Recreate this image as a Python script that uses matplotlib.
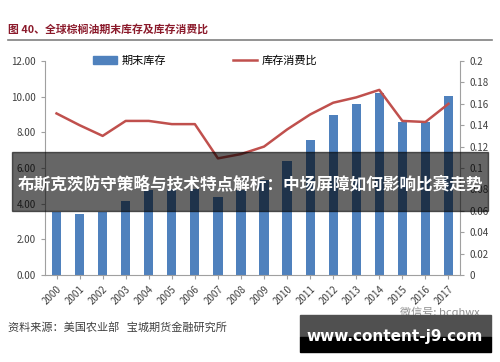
import matplotlib
matplotlib.use("Agg")
import matplotlib.pyplot as plt
from matplotlib.patches import Rectangle
from matplotlib.lines import Line2D
from matplotlib.patches import Patch

plt.rcParams['font.family'] = ['Noto Sans CJK SC', 'DejaVu Sans']

years = [str(y) for y in range(2000, 2018)]
stock = [3.53, 3.42, 3.53, 4.15, 4.75, 4.85, 4.85, 4.37, 4.75, 5.3,
         6.4, 7.55, 8.96, 9.58, 10.2, 8.57, 8.57, 10.03]
ratio = [0.151, 0.140, 0.130, 0.144, 0.144, 0.141, 0.141, 0.109, 0.113, 0.120,
         0.136, 0.150, 0.161, 0.166, 0.173, 0.144, 0.143, 0.160]

W, H = 500, 362
fig = plt.figure(figsize=(W / 100, H / 100), dpi=100)
ax = fig.add_axes([45 / W, 1 - 275 / H, 415 / W, 214 / H])
ax2 = ax.twinx()

x = list(range(len(years)))
ax.bar(x, stock, width=0.4, color='#4F81BD', zorder=2)
ax2.plot(x, ratio, color='#C0504D', lw=1.8, zorder=3)

ax.set_xlim(-0.5, len(years) - 0.5)
ax.set_ylim(0, 12)
ax.set_yticks(range(0, 13, 2))
ax.set_yticklabels([f"{v:.2f}" for v in range(0, 13, 2)])
ax2.set_ylim(0, 0.2)
rt = [i / 50 for i in range(11)]
ax2.set_yticks(rt)
ax2.set_yticklabels(['0', '0.02', '0.04', '0.06', '0.08', '0.1', '0.12',
                     '0.14', '0.16', '0.18', '0.2'])
ax.set_xticks(x)
ax.set_xticklabels(years, rotation=45, ha='right', rotation_mode='anchor')

for a in (ax, ax2):
    a.spines['top'].set_visible(False)
    for s in ('left', 'right', 'bottom'):
        a.spines[s].set_color('#A0A0A0')
    a.tick_params(colors='#A0A0A0', labelcolor='#404040', labelsize=7, length=3)
ax.spines['right'].set_visible(False)
ax2.spines['left'].set_visible(False)
ax2.spines['bottom'].set_visible(False)

handles = [Patch(color='#4F81BD'), Line2D([], [], color='#C0504D', lw=1.8)]
fig.legend(handles, ['期末库存', '库存消费比'], loc='center', ncol=2,
           bbox_to_anchor=(0.41, 1 - 61 / H), frameon=False, fontsize=8,
           handlelength=2.2, columnspacing=6, handletextpad=0.4)

fig.text(8 / W, 1 - 29 / H, '图 40、全球棕榈油期末库存及库存消费比', color='#8B1A2B',
         fontsize=7.8, fontweight='bold', va='center')
fig.add_artist(Line2D([8 / W, 492 / W], [1 - 40 / H, 1 - 40 / H], color='#808080', lw=1.2))
fig.text(8 / W, 1 - 327 / H, '资料来源：美国农业部   宝城期货金融研究所', color='#404040',
         fontsize=8, va='center')
fig.text(440 / W, 1 - 312 / H, '微信号: bcqhwx', color='#909090', fontsize=8,
         va='center', ha='center')

# overlay banner
fig.add_artist(Rectangle((12 / W, 1 - 211 / H), 476 / W, 59 / H, transform=fig.transFigure,
                         color='black', alpha=0.6, zorder=10))
fig.text(0.5, 1 - 184 / H, '布斯克茨防守策略与技术特点解析：中场屏障如何影响比赛走势',
         color='white', fontsize=12.0, fontweight='bold', ha='center', va='center', zorder=11)

# watermark box
fig.add_artist(Rectangle((300 / W, 1 - 337 / H), 191 / W, 22 / H, transform=fig.transFigure,
                         color='#505050', zorder=10))
fig.add_artist(Rectangle((300 / W, 1 - 352 / H), 191 / W, 15 / H, transform=fig.transFigure,
                         color='black', zorder=10))
fig.text(395 / W, 1 - 337 / H, 'www.content-j9.com', color='white', fontsize=11,
         fontweight='bold', ha='center', va='center', zorder=11, family='DejaVu Sans')

fig.savefig('out.png', dpi=100)
